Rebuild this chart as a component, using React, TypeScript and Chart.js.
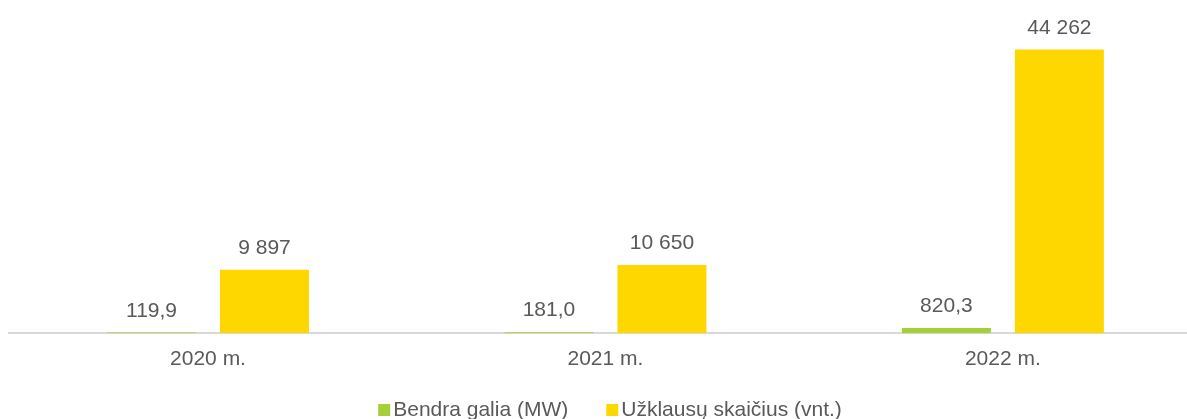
import React, { useEffect, useRef } from 'react';
import { Chart, registerables } from 'chart.js';

Chart.register(...registerables);

const categories = ['2020 m.', '2021 m.', '2022 m.'];
const powerMW = [119.9, 181.0, 820.3];
const requests = [9897, 10650, 44262];
const seriesLabels = ['Bendra galia (MW)', 'Užklausų skaičius (vnt.)'];
const seriesDecimals = [1, 0];
const colors = ['#A6CE39', '#FFD700'];

const FONT = '"Liberation Sans", Arial, sans-serif';
const TEXT = '#595959';

function fmt(v: number, decimals: number): string {
  const s = v.toFixed(decimals);
  const [i, d] = s.split('.');
  const ii = i.replace(/\B(?=(\d{3})+(?!\d))/g, ' ');
  return d ? ii + ',' + d : ii;
}

const valueLabels = {
  id: 'valueLabels',
  afterDatasetsDraw(chart: any) {
    const ctx = chart.ctx;
    ctx.save();
    ctx.font = `21px ${FONT}`;
    ctx.fillStyle = TEXT;
    ctx.textAlign = 'center';
    ctx.textBaseline = 'alphabetic';
    chart.data.datasets.forEach((ds: any, di: number) => {
      const meta = chart.getDatasetMeta(di);
      meta.data.forEach((el: any, i: number) => {
        ctx.fillText(fmt(ds.data[i], seriesDecimals[di]), el.x, el.y - 16);
      });
    });
    ctx.restore();
  },
};

const customLegend = {
  id: 'customLegend',
  afterDraw(chart: any) {
    const ctx = chart.ctx;
    ctx.save();
    ctx.font = `21px ${FONT}`;
    const box = 12;
    const gapBoxText = 3;
    const gapItems = 38;
    const ds = chart.data.datasets;
    const widths = ds.map((d: any) => ctx.measureText(d.label).width);
    let total = 0;
    widths.forEach((w: number, i: number) => {
      total += box + gapBoxText + w + (i < widths.length - 1 ? gapItems : 0);
    });
    let x = 610 - total / 2;
    const baseline = 415.5;
    ds.forEach((d: any, i: number) => {
      ctx.fillStyle = d.backgroundColor;
      ctx.fillRect(x, baseline - 11.5, box, box);
      x += box + gapBoxText;
      ctx.fillStyle = TEXT;
      ctx.textAlign = 'left';
      ctx.textBaseline = 'alphabetic';
      ctx.fillText(d.label, x, baseline);
      x += widths[i] + gapItems;
    });
    ctx.restore();
  },
};

export default function App() {
  const ref = useRef<HTMLCanvasElement | null>(null);

  useEffect(() => {
    if (!ref.current) return;
    const chart = new Chart(ref.current, {
      type: 'bar',
      data: {
        labels: categories,
        datasets: [
          {
            label: seriesLabels[0],
            data: powerMW,
            backgroundColor: colors[0],
            barPercentage: 0.7876,
            categoryPercentage: 0.5686,
          },
          {
            label: seriesLabels[1],
            data: requests,
            backgroundColor: colors[1],
            barPercentage: 0.7876,
            categoryPercentage: 0.5686,
          },
        ],
      },
      options: {
        animation: false,
        responsive: true,
        maintainAspectRatio: false,
        layout: { padding: { left: 9.3, right: 8.4, top: 12.8, bottom: 34.5 } },
        scales: {
          x: {
            grid: { display: false, drawTicks: false },
            border: { display: true, color: '#D9D9D9', width: 2 },
            ticks: { color: TEXT, font: { family: FONT, size: 21 }, padding: 13 },
          },
          y: { display: false, min: 0, max: 50000 },
        },
        plugins: {
          legend: { display: false },
          tooltip: { enabled: false },
        },
      },
      plugins: [valueLabels, customLegend],
    });
    return () => chart.destroy();
  }, []);

  return (
    <div style={{ position: 'fixed', left: 0, top: 0, width: 1187, height: 419, overflow: 'hidden', background: '#fff' }}>
      <div style={{ position: 'relative', width: 1210, height: 419 }}>
        <canvas ref={ref} />
      </div>
    </div>
  );
}
